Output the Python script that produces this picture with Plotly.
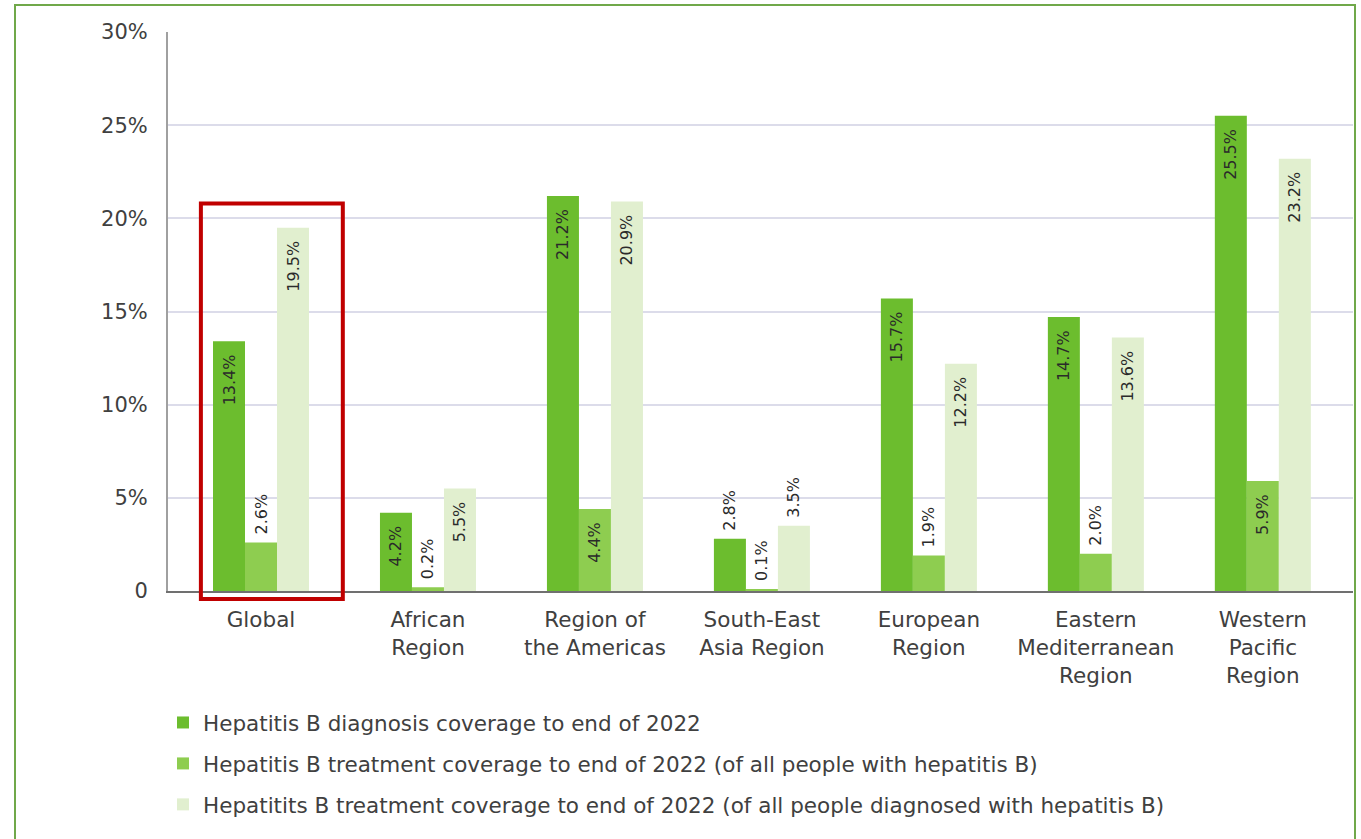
import plotly.graph_objects as go

categories = ["Global", "African<br>Region", "Region of<br>the Americas", "South-East<br>Asia Region",
              "European<br>Region", "Eastern<br>Mediterranean<br>Region", "Western<br>Pacific<br>Region"]
diagnosis = [13.4, 4.2, 21.2, 2.8, 15.7, 14.7, 25.5]
treatment_all = [2.6, 0.2, 4.4, 0.1, 1.9, 2.0, 5.9]
treatment_diag = [19.5, 5.5, 20.9, 3.5, 12.2, 13.6, 23.2]
series_names = [
    "Hepatitis B diagnosis coverage to end of 2022",
    "Hepatitis B treatment coverage to end of 2022 (of all people with hepatitis B)",
    "Hepatitits B treatment coverage to end of 2022 (of all people diagnosed with hepatitis B)",
]
y_tickvals = [0, 5, 10, 15, 20, 25, 30]
y_ticktext = ["0", "5%", "10%", "15%", "20%", "25%", "30%"]

colors = ["#6cbd2e", "#8ecd50", "#e1efcf"]
xpos = list(range(len(categories)))
FONT = "DejaVu Sans"
NB = "\u00a0"


def label(v):
    # inside labels sit a little below the bar top; outside ones a little above it
    return f"{v:.1f}%{NB * 2}" if v >= 4 else f"{NB}{v:.1f}%"


fig = go.Figure()
for name, vals, col in zip(series_names, [diagnosis, treatment_all, treatment_diag], colors):
    fig.add_trace(go.Bar(
        x=xpos, y=vals, name=name, marker=dict(color=col, line=dict(width=0)),
        text=[label(v) for v in vals],
        textposition=["inside" if v >= 4 else "outside" for v in vals],
        insidetextanchor="end", textangle=-90, constraintext="none",
        textfont=dict(family=FONT, size=16, color="#2a2a2a"),
        cliponaxis=False, legendgroup=name,
    ))

W, H = 1361, 839
ml, mr, mt, mb = 168, 8, 32, 248
pw, ph = W - ml - mr, H - mt - mb

fig.update_layout(
    width=W, height=H,
    margin=dict(l=ml, r=mr, t=mt, b=mb),
    paper_bgcolor="white", plot_bgcolor="white",
    barmode="group", bargap=0.425, bargroupgap=0,
    font=dict(family=FONT, color="#404040"),
    xaxis=dict(
        tickmode="array", tickvals=xpos, ticktext=categories,
        range=[-0.557, 6.54], showgrid=False, zeroline=False,
        showline=True, linecolor="#707070", linewidth=2,
        tickfont=dict(family=FONT, size=21.5, color="#404040"), ticks="", ticklabelstandoff=8,
    ),
    yaxis=dict(
        range=[0, 30], tickvals=y_tickvals, ticktext=y_ticktext,
        showgrid=True, gridcolor="#dcdcea", gridwidth=2,
        zeroline=False, showline=True, linecolor="#a0a0a0", linewidth=2,
        tickfont=dict(family=FONT, size=21, color="#404040"), ticks="", ticklabelstandoff=14,
    ),
    legend=dict(
        orientation="v", x=(163 - ml) / pw, y=(mt + ph - 702) / ph, xanchor="left", yanchor="top",
        font=dict(family=FONT, size=21.5, color="#404040"), tracegroupgap=10, bgcolor="rgba(0,0,0,0)",
    ),
    showlegend=True,
)

# outer green frame
fig.add_shape(type="rect", xref="paper", yref="paper",
              x0=(15 - ml) / pw, x1=(1355 - ml) / pw, y0=-0.6, y1=(mt + ph - 5) / ph,
              line=dict(color="#70a84a", width=2), layer="below")
# red highlight around the Global group
fig.add_shape(type="rect", xref="x", yref="paper",
              x0=xpos[0] - 0.36, x1=xpos[0] + 0.49, y0=-8 / ph, y1=20.8 / 30,
              line=dict(color="#c00000", width=4))

fig.write_html("out.html")
